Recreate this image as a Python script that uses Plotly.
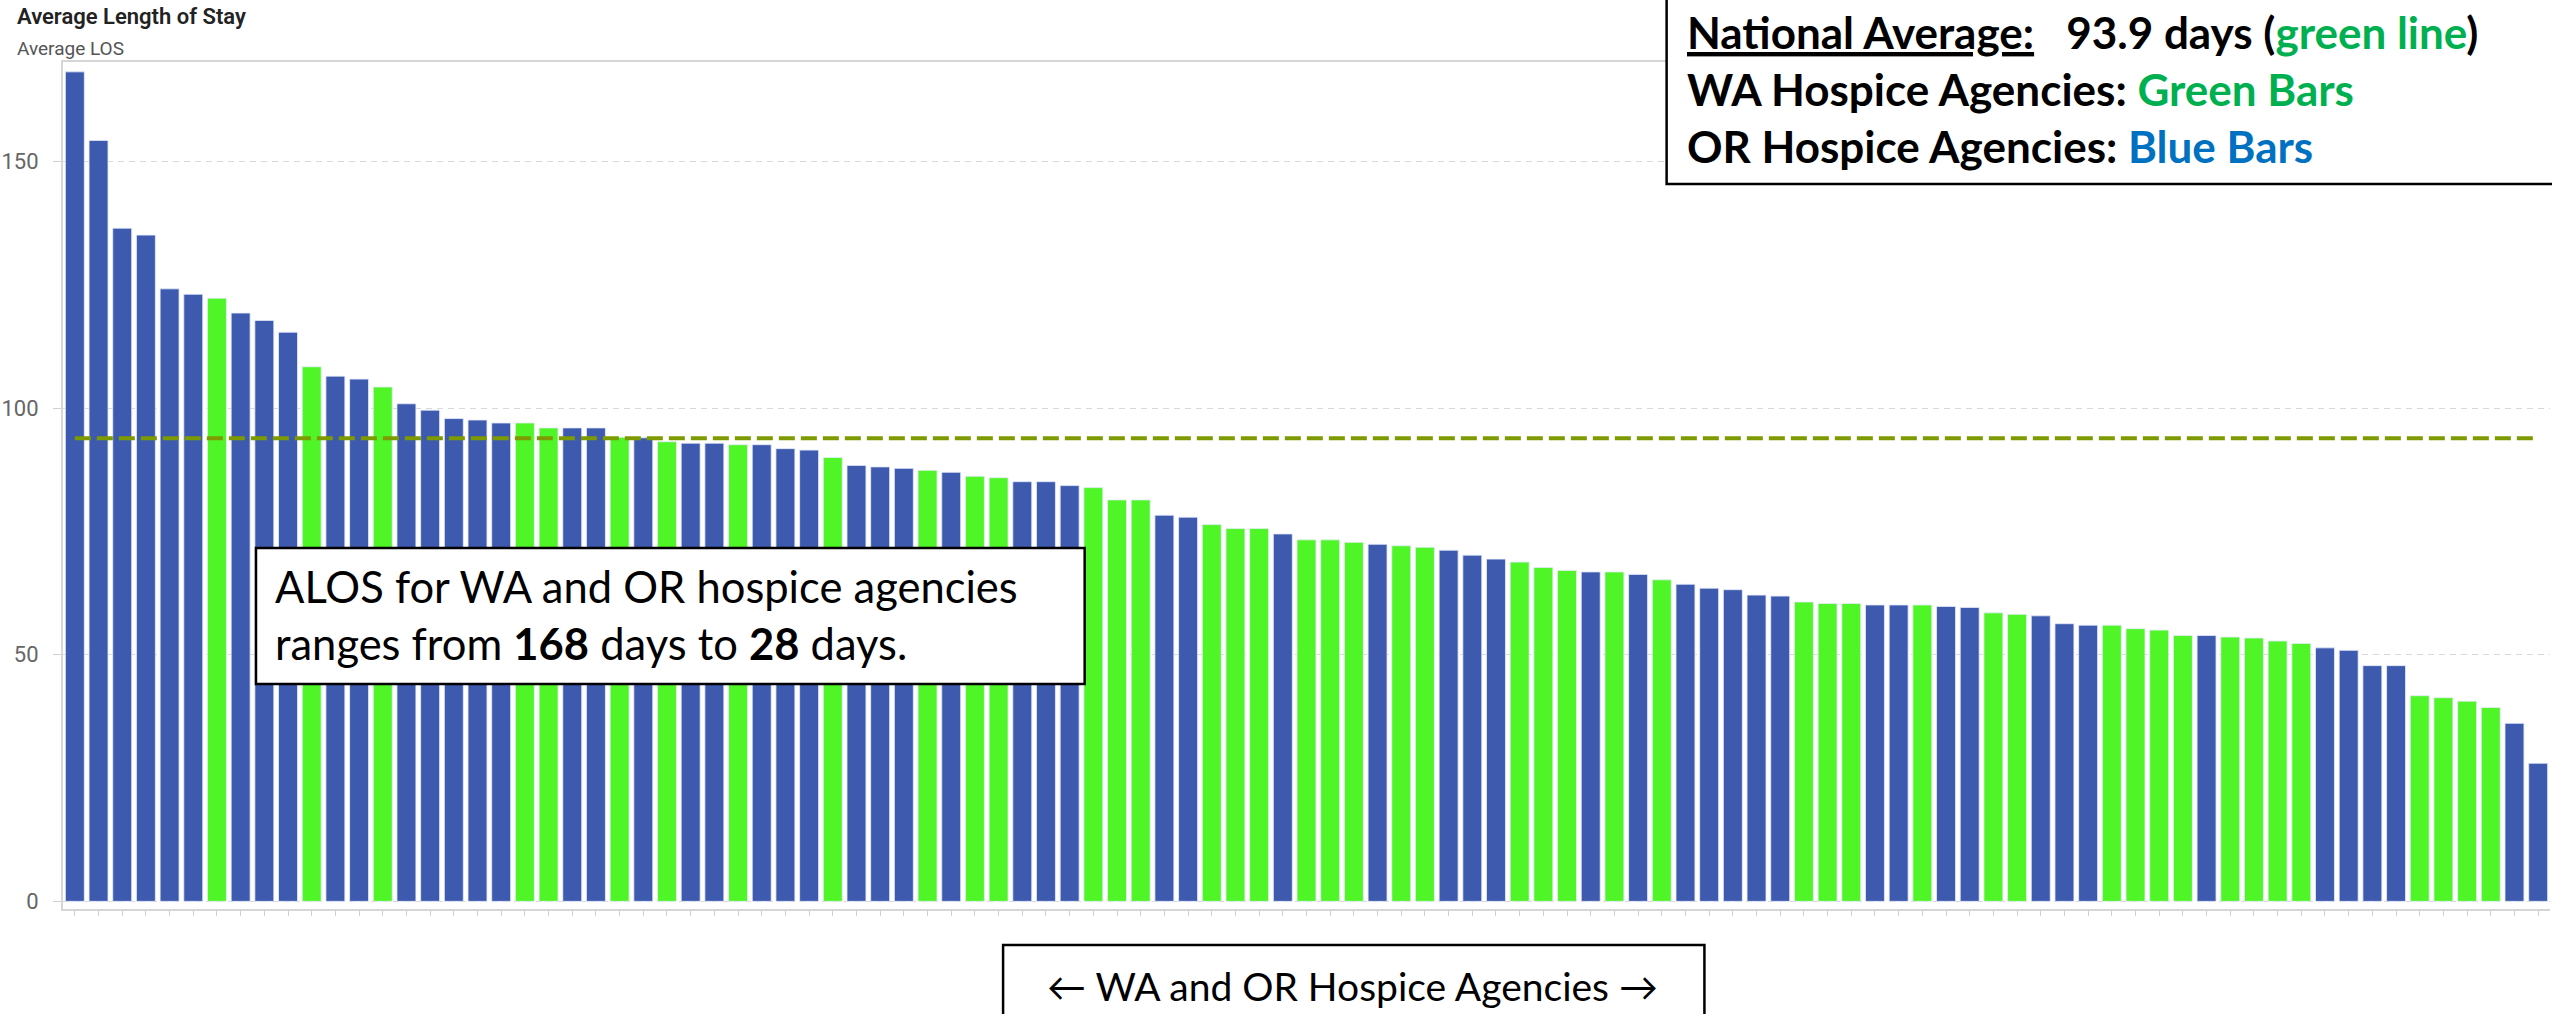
import plotly.graph_objects as go

# agencies ranked by average length of stay (days), left to right
rank = list(range(1, 106))
los = [
    168.2, 154.3, 136.5, 135.1, 124.2, 123.1, 122.3, 119.3, 117.8, 115.4,
    108.4, 106.5, 105.9, 104.3, 100.9, 99.6, 97.9, 97.6, 97.0, 97.0,
    96.0, 96.0, 96.0, 94.1, 94.0, 93.2, 92.9, 92.9, 92.6, 92.6,
    91.8, 91.5, 90.0, 88.4, 88.1, 87.8, 87.4, 87.0, 86.2, 85.9,
    85.1, 85.1, 84.3, 83.9, 81.4, 81.4, 78.3, 77.9, 76.4, 75.6,
    75.6, 74.5, 73.3, 73.3, 72.8, 72.4, 72.1, 71.8, 71.2, 70.2,
    69.4, 68.8, 67.7, 67.1, 66.8, 66.8, 66.3, 65.2, 64.3, 63.5,
    63.2, 62.1, 61.9, 60.7, 60.4, 60.4, 60.1, 60.1, 60.1, 59.8,
    59.6, 58.5, 58.2, 57.9, 56.3, 56.0, 56.0, 55.3, 55.0, 53.9,
    53.9, 53.6, 53.4, 52.8, 52.3, 51.4, 50.9, 47.8, 47.8, 41.7,
    41.3, 40.6, 39.3, 36.1, 28.0,
]
state = (
    "OR OR OR OR OR OR WA OR OR OR "
    "WA OR OR WA OR OR OR OR OR WA "
    "WA OR OR WA OR WA OR OR WA OR "
    "OR OR WA OR OR OR WA OR WA WA "
    "OR OR OR WA WA WA OR OR WA WA "
    "WA OR WA WA WA OR WA WA OR OR "
    "OR WA WA WA OR WA OR WA OR OR "
    "OR OR OR WA WA WA OR OR WA OR "
    "OR WA WA OR OR OR WA WA WA WA "
    "OR WA WA WA WA OR OR OR OR WA "
    "WA WA WA OR OR"
).split()
national_avg = 93.9
y_ticks = [0, 50, 100, 150]

state_colors = {"WA": "#50F528", "OR": "#3D5AAE"}

W, H = 2552, 1014
L, R, T, B = 50, 2, 62, 105


def px_x(x):
    return (x - L) / (W - L - R)


def px_y(y):
    return (H - B - y) / (H - T - B)


fig = go.Figure()
fig.add_trace(go.Bar(
    x=rank, y=los,
    marker=dict(color=[state_colors[s] for s in state],
                line=dict(width=1, color="rgba(230,235,250,0.8)")),
    hovertemplate="Rank %{x}<br>ALOS %{y}<extra></extra>",
))
fig.add_trace(go.Scatter(
    x=[rank[0], rank[-1]], y=[national_avg, national_avg],
    mode="lines", line=dict(color="#7D9B00", width=4, dash="16px,6px"),
    hoverinfo="skip",
))

green, blue = "#00B050", "#0070C0"
nbsp = "\u00a0"
legend_text = (
    f"<b><u>National Average:</u>{nbsp * 3}{national_avg} days "
    f"(<span style='color:{green}'>green line</span>)</b><br>"
    f"<b>WA Hospice Agencies: <span style='color:{green}'>Green Bars</span></b><br>"
    f"<b>OR Hospice Agencies: <span style='color:{blue}'>Blue Bars</span></b>"
)
range_text = (
    "ALOS for WA and OR hospice agencies<br>"
    f"ranges from <b>{round(max(los))}</b> days to <b>{round(min(los))}</b> days."
)

box = dict(type="rect", xref="paper", yref="paper", layer="above",
           fillcolor="white", line=dict(color="black", width=2.5))
fig.update_layout(
    shapes=[
        dict(box, x0=px_x(1662), x1=px_x(2600), y0=px_y(184), y1=px_y(-20)),
        dict(box, x0=px_x(244), x1=px_x(1077), y0=px_y(684), y1=px_y(548)),
        dict(box, x0=px_x(995), x1=px_x(1700), y0=px_y(945), y1=px_y(1040)),
    ],
    annotations=[
        dict(text="Average Length of Stay", x=px_x(2), y=px_y(16),
             xanchor="left", yanchor="middle",
             font=dict(family="Roboto", size=22, color="#222", weight=600)),
        dict(text="Average LOS", x=px_x(2), y=px_y(49),
             xanchor="left", yanchor="middle",
             font=dict(family="Roboto", size=19, color="#555")),
        dict(text=legend_text, x=px_x(1680), y=px_y(89), align="left",
             xanchor="left", yanchor="middle",
             font=dict(family="Lato", size=44, color="black")),
        dict(text=range_text, x=px_x(261), y=px_y(614), align="left",
             xanchor="left", yanchor="middle",
             font=dict(family="Lato", size=43.5, color="black")),
        dict(text="\u2190 WA and OR Hospice Agencies \u2192", x=px_x(1346), y=px_y(986),
             xanchor="center", yanchor="middle",
             font=dict(family="Lato", size=39, color="black")),
    ],
)
for a in fig.layout.annotations:
    a.update(xref="paper", yref="paper", showarrow=False)

fig.update_layout(
    width=W, height=H,
    margin=dict(l=L, r=R, t=T, b=B, pad=0),
    paper_bgcolor="white", plot_bgcolor="white",
    showlegend=False, bargap=0.2,
    font=dict(family="Roboto", color="#555"),
    xaxis=dict(
        range=[0.5, len(rank) + 0.5], tickvals=rank, showticklabels=False,
        ticks="outside", ticklen=5, tickcolor="#d0d0d0", showgrid=False,
        showline=True, linecolor="#d6d6d6", linewidth=2, mirror=True,
        zeroline=False,
    ),
    yaxis=dict(
        range=[-1.55, 170.2], tickvals=y_ticks,
        ticks="outside", ticklen=8, tickcolor="#d0d0d0", ticklabelstandoff=10,
        tickfont=dict(family="Roboto", size=22, color="#666"),
        showgrid=True, gridcolor="#d9d9d9", gridwidth=1, griddash="6px,5px",
        showline=True, linecolor="#d6d6d6", linewidth=2, zeroline=False,
    ),
)

# no body margin, so the figure sits at the window's top-left corner
fig.write_html("out.html", config={"displayModeBar": False},
               post_script="document.body.style.margin = '0';")
